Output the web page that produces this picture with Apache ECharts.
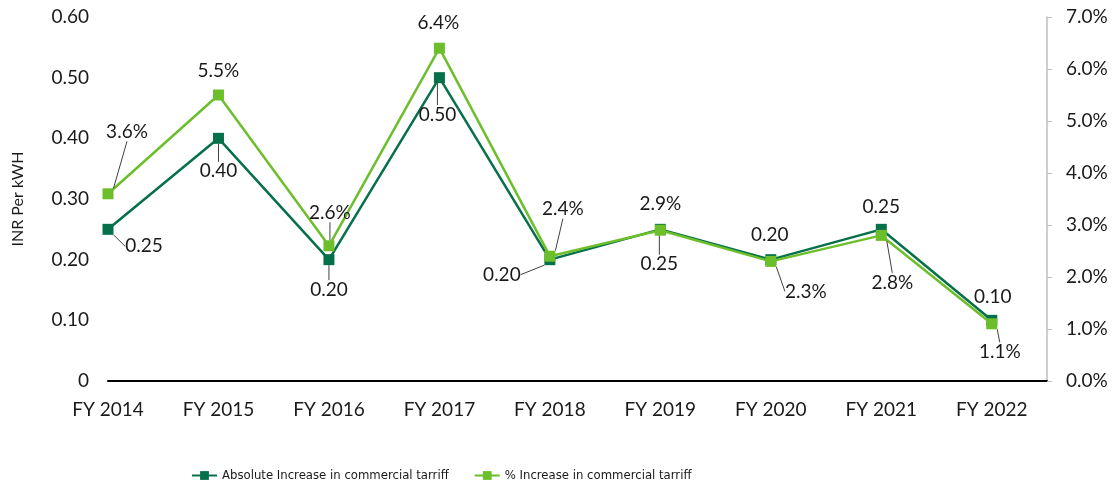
<!DOCTYPE html>
<html>
<head>
<meta charset="utf-8">
<script src="https://cdn.jsdelivr.net/npm/echarts@6/dist/echarts.min.js"></script>
<style>
  html, body { margin: 0; padding: 0; background: #fff; }
  #chart { width: 1120px; height: 488px; }
</style>
</head>
<body>
<div id="chart"></div>
<script>
// Financial years on the horizontal axis
const categories = ['FY 2014', 'FY 2015', 'FY 2016', 'FY 2017', 'FY 2018', 'FY 2019', 'FY 2020', 'FY 2021', 'FY 2022'];
// Absolute increase in commercial tariff, INR per kWh
const absoluteIncrease = [0.25, 0.40, 0.20, 0.50, 0.20, 0.25, 0.20, 0.25, 0.10];
// Percentage increase in commercial tariff
const percentIncrease = [3.6, 5.5, 2.6, 6.4, 2.4, 2.9, 2.3, 2.8, 1.1];
// Left and right axis tick labels
const leftTicks = ['0', '0.10', '0.20', '0.30', '0.40', '0.50', '0.60'];
const rightTicks = ['0.0%', '1.0%', '2.0%', '3.0%', '4.0%', '5.0%', '6.0%', '7.0%'];

const DARK = '#05704a';
const LIGHT = '#6cbf2b';
const FONT = 'Lato';
const NARROW = '"Liberation Sans Narrow", "DejaVu Sans Condensed", Lato';

// Callout placement for each value label: [dx, dy, showLeader]
const absCallouts = [[36, 17, 1], [0, 33, 1], [0, 30, 1], [-2, 37, 1], [-48, 15, 1], [-1, 35, 1], [-1, -25, 0], [0, -22, 0], [1, -23, 0]];
const pctCallouts = [[19, -62, 1], [0, -24, 0], [1, -33, 1], [-1, -25, 0], [13, -47, 1], [0, -26, 0], [35, 30, 1], [11, 47, 1], [8, 28, 1]];

function buildItems(values, callouts) {
  return values.map((v, i) => ({
    value: [i, v],
    labelLine: { show: !!callouts[i][2] }
  }));
}

const chart = echarts.init(document.getElementById('chart'), null, { renderer: 'canvas' });

const labelStyle = {
  show: true,
  position: 'inside',
  fontFamily: FONT,
  fontSize: 19,
  color: '#1a1a1a'
};
const leaderStyle = { lineStyle: { color: '#404040', width: 1 } };
const tickText = { fontFamily: FONT, fontSize: 19, color: '#1a1a1a' };

chart.setOption({
  animation: false,
  textStyle: { fontFamily: FONT },
  grid: { left: 108, right: 73, top: 17, bottom: 107, containLabel: false },
  legend: {
    top: 464,
    left: 186,
    itemGap: 25,
    itemWidth: 25,
    itemHeight: 11,
    textStyle: { fontFamily: NARROW, fontSize: 13, color: '#1a1a1a' },
    data: ['Absolute Increase in commercial tarriff', '% Increase in commercial tarriff']
  },
  xAxis: {
    type: 'value',
    min: 0,
    max: 8.5,
    interval: 1,
    splitLine: { show: false },
    axisTick: { show: false },
    axisLine: { show: true, lineStyle: { color: '#000', width: 2 } },
    axisLabel: Object.assign({
      margin: 19,
      showMaxLabel: false,
      formatter: v => (Number.isInteger(v) && categories[v]) ? categories[v] : ''
    }, tickText)
  },
  yAxis: [
    {
      type: 'value',
      min: 0,
      max: 0.6,
      interval: 0.1,
      name: 'INR Per kWH',
      nameLocation: 'middle',
      nameGap: 82,
      nameRotate: 90,
      nameTextStyle: { fontFamily: FONT, fontSize: 16, color: '#1a1a1a' },
      splitLine: { show: false },
      axisTick: { show: false },
      axisLine: { show: false },
      axisLabel: Object.assign({
        margin: 19,
        formatter: (v) => leftTicks[Math.round(v * 10)]
      }, tickText)
    },
    {
      type: 'value',
      position: 'right',
      min: 0,
      max: 7,
      interval: 1,
      splitLine: { show: false },
      axisLine: { show: true, lineStyle: { color: '#bfbfbf', width: 1.5 } },
      axisTick: { show: true, inside: false, length: 5, lineStyle: { color: '#bfbfbf' } },
      axisLabel: Object.assign({
        margin: 19,
        formatter: (v) => rightTicks[Math.round(v)]
      }, tickText)
    }
  ],
  series: [
    {
      name: 'Absolute Increase in commercial tarriff',
      type: 'line',
      yAxisIndex: 0,
      data: buildItems(absoluteIncrease, absCallouts),
      symbol: 'rect',
      symbolSize: 11,
      color: DARK,
      lineStyle: { color: DARK, width: 2.5 },
      itemStyle: { color: DARK },
      label: Object.assign({}, labelStyle, { formatter: p => p.value[1].toFixed(2) }),
      labelLine: leaderStyle,
      labelLayout: p => ({ dx: absCallouts[p.dataIndex][0], dy: absCallouts[p.dataIndex][1] }),
      z: 2
    },
    {
      name: '% Increase in commercial tarriff',
      type: 'line',
      yAxisIndex: 1,
      data: buildItems(percentIncrease, pctCallouts),
      symbol: 'rect',
      symbolSize: 11,
      color: LIGHT,
      lineStyle: { color: LIGHT, width: 2.5 },
      itemStyle: { color: LIGHT },
      label: Object.assign({}, labelStyle, { formatter: p => p.value[1].toFixed(1) + '%' }),
      labelLine: leaderStyle,
      labelLayout: p => ({ dx: pctCallouts[p.dataIndex][0], dy: pctCallouts[p.dataIndex][1] }),
      z: 3
    }
  ]
});
</script>
</body>
</html>
